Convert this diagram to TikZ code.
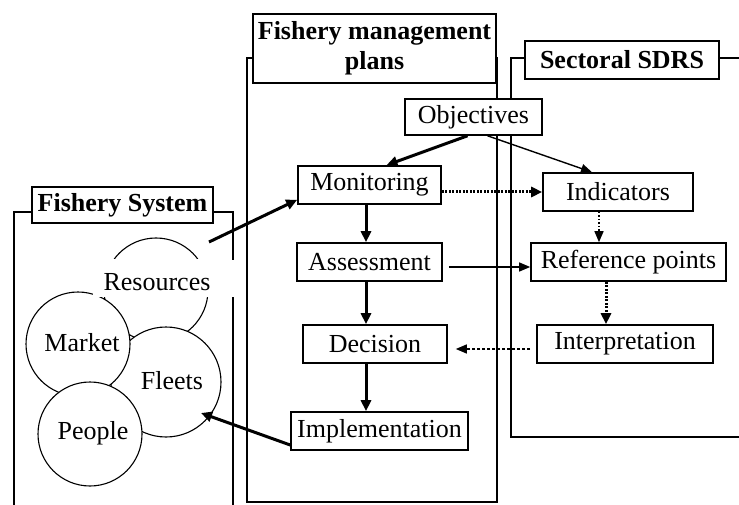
\documentclass[tikz,border=0pt]{standalone}
\usepackage{fontspec}
\setmainfont{Liberation Serif}
\usetikzlibrary{arrows.meta}
\begin{document}
\begin{tikzpicture}[x=1pt,y=-1pt,
  box/.style={draw,line width=1.6pt,minimum height=38pt,inner sep=0pt,font=\fontsize{26}{28}\selectfont,fill=white},
  ttl/.style={draw,line width=1.8pt,inner sep=0pt,font=\bfseries\fontsize{26}{30}\selectfont,fill=white,align=center},
  frame/.style={line width=1.8pt},
  ring/.style={circle,draw,fill=white,line width=1.1pt,inner sep=0pt,minimum size=104pt},
  lbl/.style={font=\fontsize{26}{28}\selectfont,inner sep=0pt},
  thickarr/.style={line width=3pt,-{Triangle[length=11pt,width=10pt]}},
  thinarr/.style={line width=1.4pt,-{Triangle[length=11pt,width=9pt]}},
  dotthick/.style={dash pattern=on 2pt off 1.5pt},
]
\useasboundingbox[fill=white] (0,0) rectangle (739,505);

% frames
\draw[frame] (32,212) -- (14,212) -- (14,505);
\draw[frame] (213,212) -- (233,212) -- (233,260);
\draw[frame] (233,297) -- (233,505);
\draw[frame] (253,58) -- (247,58) -- (247,502) -- (497,502) -- (497,58) -- (496,58);
\draw[frame] (525,58) -- (511,58) -- (511,437) -- (739,437);
\draw[frame] (719,58) -- (739,58);

% titles
\node[ttl,minimum width=181pt,minimum height=36pt] (fst) at (122.5,205) {Fishery System};
\node[ttl,minimum width=243pt,minimum height=69pt] (fmt) at (374.5,48.5) {Fishery management\\plans};
\node[ttl,minimum width=194pt,minimum height=38pt] (sst) at (622,60) {Sectoral SDRS};

% circles
\node[ring] (rescirc) at (156,290) {};
\node[ring,minimum size=110pt] (fleetcirc) at (166,382) {};
\node[ring] (marketcirc) at (78,344) {};
\node[ring] (peoplecirc) at (90,434) {};
\fill[white] (93,259) rectangle (214,297);
\node[lbl] (res) at (157,282) {Resources};
\node[lbl] (market) at (82,343) {Market};
\node[lbl] (fleets) at (172,381) {Fleets};
\node[lbl] (people) at (93,433) {People};

% process boxes
\node[box,minimum width=137pt,minimum height=36pt] (obj) at (473.5,117) {Objectives};
\node[box,minimum width=143pt] (mon) at (369.5,185) {Monitoring};
\node[box,minimum width=150pt] (ind) at (618,192) {Indicators};
\node[box,minimum width=145pt] (ass) at (369.5,262) {Assessment};
\node[box,minimum width=144pt] (dec) at (375,344) {Decision};
\node[box,minimum width=177pt] (imp) at (379.5,431) {Implementation};
\node[box,minimum width=195pt] (ref) at (628.5,262) {Reference points};
\node[box,minimum width=176pt] (int) at (625,344) {Interpretation};

\coordinate (vx) at (366,0);
\coordinate (resout) at (209,242);
\coordinate (fleetin) at (201,413);

% connectors
\draw[thickarr] (resout) -- ([yshift=5pt]mon.south west);
\draw[thickarr] ([yshift=-14pt]imp.west) -- (fleetin);
\draw[thickarr] ([xshift=-6pt]obj.south) -- ([xshift=17pt]mon.north);
\draw[thinarr] ([xshift=14pt]obj.south) -- ([xshift=-26pt]ind.north);
\draw[thickarr,dotthick] (mon.east |- ind.west) -- (ind.west);
\draw[thickarr] (mon.south -| vx) -- (ass.north -| vx);
\draw[thickarr] (ass.south -| vx) -- (dec.north -| vx);
\draw[thickarr] (dec.south -| vx) -- (imp.north -| vx);
\draw[thinarr] ([xshift=6pt,yshift=-5pt]ass.east) -- ([yshift=-5pt]ref.west);
\draw[thinarr,dash pattern=on 1.5pt off 2pt] ([xshift=-19pt]ind.south) -- ([xshift=-29.5pt]ref.north);
\draw[thickarr,dotthick] ([xshift=-22.5pt]ref.south) -- ([xshift=-19pt]int.north);
\draw[thinarr,dash pattern=on 3pt off 2pt] ([xshift=-6pt,yshift=-5pt]int.west) -- ([xshift=8pt,yshift=-5pt]dec.east);
\end{tikzpicture}
\end{document}
